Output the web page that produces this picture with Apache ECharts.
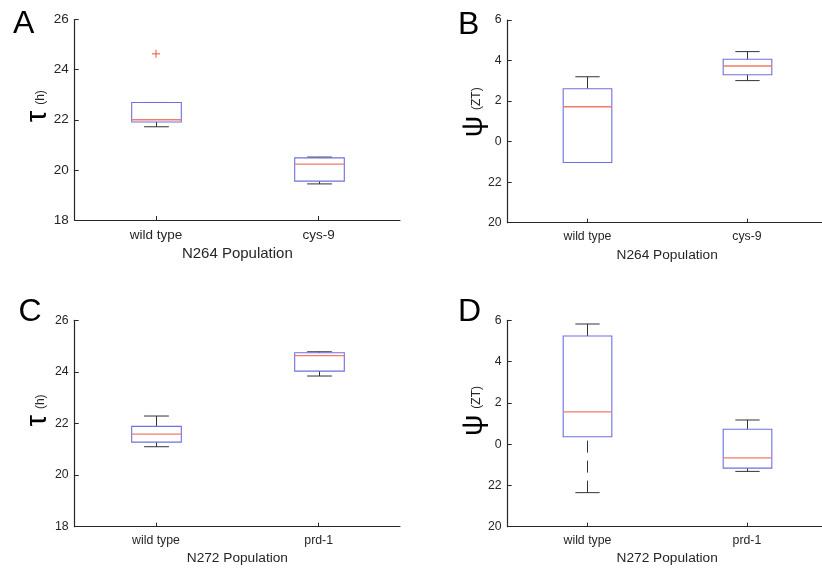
<!DOCTYPE html>
<html><head><meta charset="utf-8">
<script src="https://cdn.jsdelivr.net/npm/echarts@6/dist/echarts.min.js"></script>
<style>html,body{margin:0;padding:0;background:#fff}#c{width:822px;height:570px}</style>
</head><body><div id="c"></div>
<script>
// ---------- DATA ----------
// Each box: [min (lower whisker), q1, median, q3, max (upper whisker)]
// Panel A – N264 period tau (h)
const catsA = ['wild type', 'cys-9'];
const boxA = [[21.72, 21.91, 22.00, 22.69, 22.69], [19.44, 19.55, 20.23, 20.48, 20.51]];
const outA = [[0, 24.63]];
// Panel B – N264 phase psi (hours on a running clock; values above 24 are ZT 0-6 of the next day)
const catsB = ['wild type', 'cys-9'];
const boxB = [[22.97, 22.97, 25.72, 26.61, 27.20], [27.01, 27.30, 27.73, 28.06, 28.44]];
const outB = [];
// Panel C – N272 period tau (h)
const catsC = ['wild type', 'prd-1'];
const boxC = [[21.10, 21.28, 21.59, 21.89, 22.29], [23.84, 24.03, 24.63, 24.74, 24.78]];
const outC = [];
// Panel D – N272 phase psi
const catsD = ['wild type', 'prd-1'];
const boxD = [[21.65, 24.36, 25.56, 29.24, 29.82], [22.68, 22.84, 23.33, 24.72, 25.17]];
const outD = [];
// Tick values and labels
const tauTicks = [18, 20, 22, 24, 26];
const tauLabels = ['18', '20', '22', '24', '26'];
const psiTicks = [20, 22, 24, 26, 28, 30];
const psiLabels = ['20', '22', '0', '2', '4', '6'];
const xNames = ['N264 Population', 'N264 Population', 'N272 Population', 'N272 Population'];
const letters = ['A', 'B', 'C', 'D'];

// ---------- STYLE ----------
const FONT = 'Liberation Sans';
const AX = '#262626';
const BOX = '#6f6fe0';
const MED = '#f47a66';
const WHISK = '#333333';

const grids = [
  {left: 74.7, top: 19.5, width: 325.3, height: 200.5},
  {left: 507.7, top: 20, width: 319, height: 202.7},
  {left: 74.7, top: 320.3, width: 325.3, height: 206.4},
  {left: 507.7, top: 320.3, width: 319, height: 206.4}
];
const tickFs = [13.5, 12.3, 12.3, 12.3];
const nameFs = [15, 13.7, 13.7, 13.7];
const cats = [catsA, catsB, catsC, catsD];
const boxes = [boxA, boxB, boxC, boxD];
const outs = [outA, outB, outC, outD];
const isPsi = [false, true, false, true];

function boxRender(params, api) {
  const x = api.value(0);
  const band = api.size([1, 0])[0];
  const w = band * 0.305;
  const pMin = api.coord([x, api.value(1)]);
  const pQ1 = api.coord([x, api.value(2)]);
  const pMed = api.coord([x, api.value(3)]);
  const pQ3 = api.coord([x, api.value(4)]);
  const pMax = api.coord([x, api.value(5)]);
  const cx = Math.round(pMed[0]) + 0.5;
  const wl = {stroke: WHISK, lineWidth: 1, lineDash: [12, 8]};
  const cap = {stroke: WHISK, lineWidth: 1};
  return {type: 'group', children: [
    {type: 'line', shape: {x1: cx, y1: pMax[1], x2: cx, y2: pQ3[1]}, style: wl},
    {type: 'line', shape: {x1: cx, y1: pMin[1], x2: cx, y2: pQ1[1]}, style: wl},
    {type: 'line', shape: {x1: cx - w / 4, y1: pMax[1], x2: cx + w / 4, y2: pMax[1]}, style: cap},
    {type: 'line', shape: {x1: cx - w / 4, y1: pMin[1], x2: cx + w / 4, y2: pMin[1]}, style: cap},
    {type: 'rect', shape: {x: cx - w / 2, y: pQ3[1], width: w, height: pQ1[1] - pQ3[1]},
      style: {fill: 'none', stroke: BOX, lineWidth: 1.1}},
    {type: 'line', shape: {x1: cx - w / 2, y1: pMed[1], x2: cx + w / 2, y2: pMed[1]},
      style: {stroke: MED, lineWidth: 1.3}}
  ]};
}
function outRender(params, api) {
  const p = api.coord([api.value(0), api.value(1)]);
  const s = 4;
  const st = {stroke: '#f06040', lineWidth: 1.1};
  return {type: 'group', children: [
    {type: 'line', shape: {x1: p[0] - s, y1: p[1], x2: p[0] + s, y2: p[1]}, style: st},
    {type: 'line', shape: {x1: p[0], y1: p[1] - s, x2: p[0], y2: p[1] + s}, style: st}
  ]};
}

const option = {
  animation: false,
  backgroundColor: '#fff',
  textStyle: {fontFamily: FONT},
  grid: grids.map(g => Object.assign({containLabel: false, outerBoundsMode: 'none'}, g)),
  xAxis: grids.map((g, i) => ({
    type: 'category', gridIndex: i, data: cats[i], boundaryGap: true,
    axisLine: {show: true, onZero: false, lineStyle: {color: AX, width: 1.2}},
    axisTick: {show: true, inside: true, alignWithLabel: true, length: 4, lineStyle: {color: AX}},
    axisLabel: {color: AX, fontSize: tickFs[i], fontFamily: FONT, margin: 8},
    splitLine: {show: false},
    name: xNames[i], nameLocation: 'middle', nameGap: [26, 25.5, 24.5, 24.5][i], nameMoveOverlap: false,
    nameTextStyle: {color: AX, fontSize: nameFs[i], fontFamily: FONT}
  })),
  yAxis: grids.map((g, i) => {
    const tv = isPsi[i] ? psiTicks : tauTicks;
    const tl = isPsi[i] ? psiLabels : tauLabels;
    return {
      type: 'value', gridIndex: i, min: tv[0], max: tv[tv.length - 1], interval: 2,
      axisLine: {show: true, onZero: false, lineStyle: {color: AX, width: 1.2}},
      axisTick: {show: true, inside: true, length: 4, lineStyle: {color: AX}},
      axisLabel: {color: AX, fontSize: tickFs[i], fontFamily: FONT, margin: 6,
        formatter: v => { const k = tv.indexOf(v); return k >= 0 ? tl[k] : ''; }},
      splitLine: {show: false},
      name: isPsi[i] ? '{t|ψ}{s|(ZT)}' : '{t|τ}{s|(h)}',
      nameLocation: 'middle', nameRotate: 90, nameMoveOverlap: false,
      nameGap: isPsi[i] ? 19 : 22,
      nameTextStyle: {
        color: '#000', fontFamily: FONT,
        padding: [0, 0, 0, [27, 18, 26, 25][i]],
        rich: {
          t: {fontSize: isPsi[i] ? 30 : 29, fontFamily: FONT, color: '#000', verticalAlign: 'bottom'},
          s: {fontSize: 12, fontFamily: FONT, color: AX, verticalAlign: 'bottom', padding: [0, 0, 6, 6]}
        }
      }
    };
  }),
  graphic: letters.map((t, i) => ({
    type: 'text', left: [13, 458, 18.5, 458][i], top: [8, 9, 296, 296][i],
    style: {text: t, fontSize: 32, fontFamily: FONT, fill: '#000'}
  })),
  series: [].concat(
    boxes.map((b, i) => ({
      type: 'custom', xAxisIndex: i, yAxisIndex: i,
      data: b.map((v, k) => [k].concat(v)),
      encode: {x: 0, y: [1, 2, 3, 4, 5]},
      renderItem: boxRender, clip: false
    })),
    outs.map((o, i) => ({
      type: 'custom', xAxisIndex: i, yAxisIndex: i,
      data: o, encode: {x: 0, y: 1}, renderItem: outRender
    }))
  )
};
const chart = echarts.init(document.getElementById('c'), null, {renderer: 'canvas'});
chart.setOption(option);
</script></body></html>
